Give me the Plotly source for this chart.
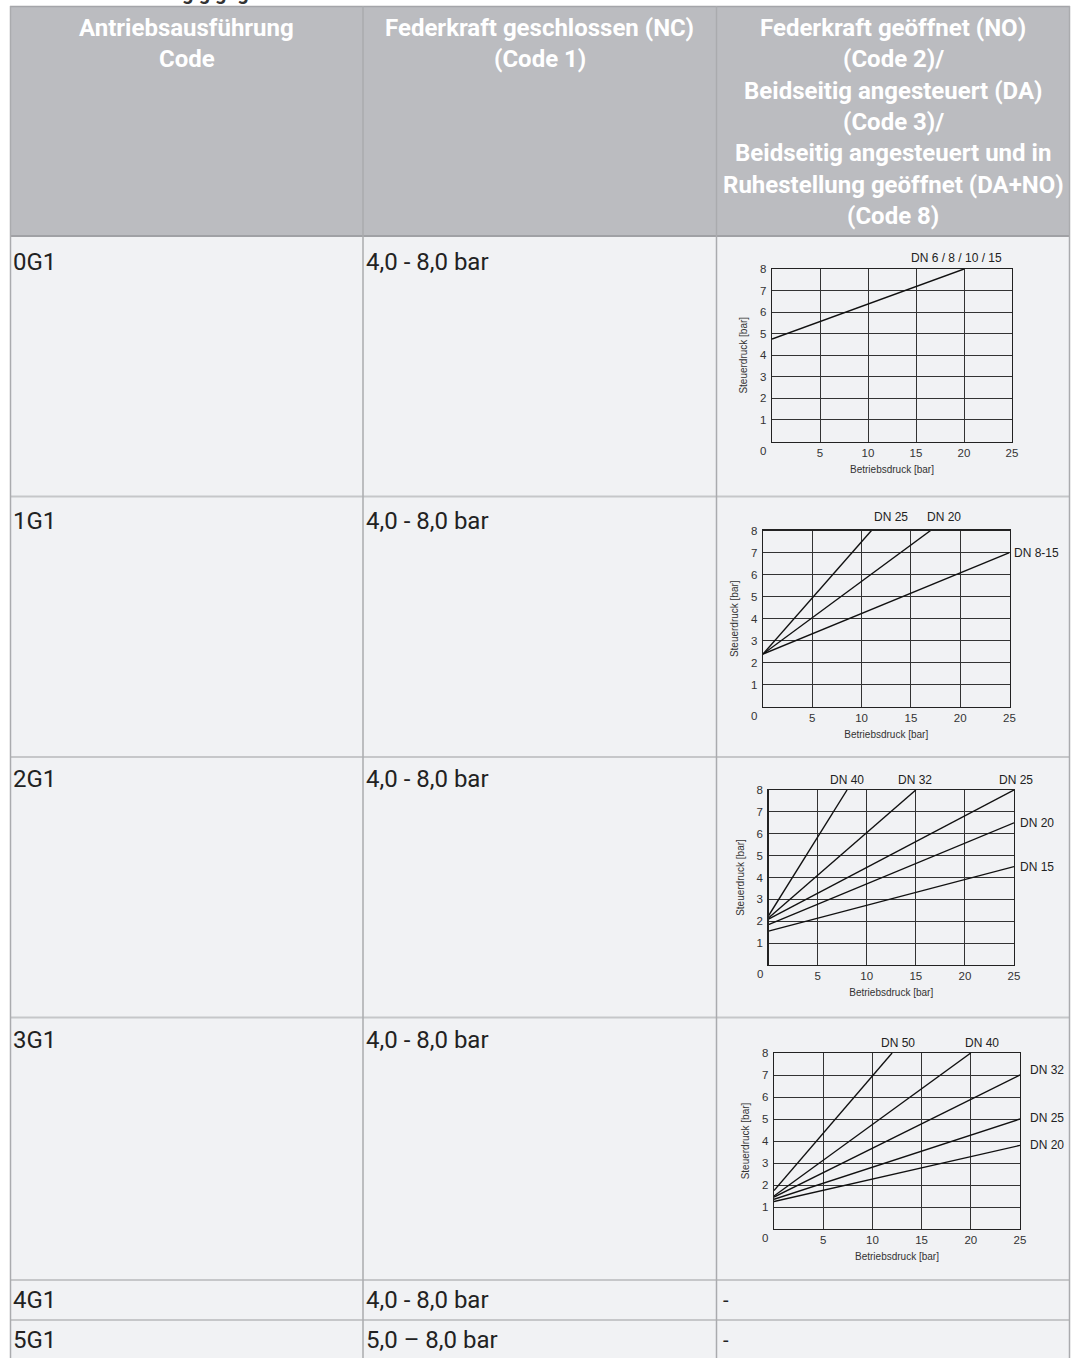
import plotly.graph_objects as go

W, H = 1077, 1358
OFF = 30  # extra figure space above the visible page top (scrolled away with a negative body margin)

# ---------------- table data ----------------
header_col1 = ["Antriebsausführung", "Code"]
header_col2 = ["Federkraft geschlossen (NC)", "(Code 1)"]
header_col3 = ["Federkraft geöffnet (NO)", "(Code 2)/", "Beidseitig angesteuert (DA)",
               "(Code 3)/", "Beidseitig angesteuert und in",
               "Ruhestellung geöffnet (DA+NO)", "(Code 8)"]
row_codes = ["0G1", "1G1", "2G1", "3G1", "4G1", "5G1"]
row_ranges = ["4,0 - 8,0 bar", "4,0 - 8,0 bar", "4,0 - 8,0 bar", "4,0 - 8,0 bar",
              "4,0 - 8,0 bar", "5,0 – 8,0 bar"]
row_col3_text = [None, None, None, None, "-", "-"]

# ---------------- chart data (Steuerdruck vs Betriebsdruck) ----------------
x_ticks = [5, 10, 15, 20, 25]
y_ticks = [1, 2, 3, 4, 5, 6, 7, 8]

g0_dn = ["DN 6 / 8 / 10 / 15"]
g0_start = [4.75]
g0_end_x = [20]
g0_end_y = [8]

g1_dn = ["DN 25", "DN 20", "DN 8-15"]
g1_start = [2.4, 2.4, 2.4]
g1_end_x = [11, 17, 25]
g1_end_y = [8, 8, 7]

g2_dn = ["DN 40", "DN 32", "DN 25", "DN 20", "DN 15"]
g2_start = [2.25, 2.15, 2.1, 1.85, 1.55]
g2_end_x = [8, 15, 25, 25, 25]
g2_end_y = [8, 8, 8, 6.5, 4.5]

g3_dn = ["DN 50", "DN 40", "DN 32", "DN 25", "DN 20"]
g3_start = [1.75, 1.5, 1.45, 1.35, 1.25]
g3_end_x = [12, 20, 25, 25, 25]
g3_end_y = [8, 8, 7, 5, 3.8]

groups = [
    (g0_dn, g0_start, g0_end_x, g0_end_y),
    (g1_dn, g1_start, g1_end_x, g1_end_y),
    (g2_dn, g2_start, g2_end_x, g2_end_y),
    (g3_dn, g3_start, g3_end_x, g3_end_y),
]

# ---------------- layout geometry (pixels of the visible page) ----------------
FH = H + OFF

def px(x):
    return x / W

def py(y):
    return 1 - (y + OFF) / FH

# plot boxes: (x_at_0, x_at_25, y_at_0, y_at_8)
boxes = [
    (772, 1012, 441.5, 269),
    (763, 1009.5, 707, 530.5),
    (768.5, 1014, 965, 790),
    (774, 1020, 1229, 1053),
]
# DN label positions in axis units: (x, y, xanchor)
label_pos = [
    [(19.2, 8.52, "center")],
    [(13.0, 8.63, "center"), (18.4, 8.63, "center"), (25.3, 7.0, "left")],
    [(7.96, 8.46, "center"), (14.9, 8.46, "center"), (25.2, 8.46, "center"),
     (25.4, 6.5, "left"), (25.4, 4.47, "left")],
    [(12.57, 8.47, "center"), (21.1, 8.47, "center"), (25.8, 7.23, "left"),
     (25.8, 5.03, "left"), (25.8, 3.82, "left")],
]

TBL_L, TBL_R, TBL_T = 10, 1070, 6
COL1, COL2 = 363, 716.5
HDR_B = 236
row_tops = [236, 496.5, 757, 1017.5, 1280, 1320]
row_text_y = [262, 521, 779, 1040, 1300, 1340]

HDR_BG = "#bbbcc0"
CELL_BG = "#f1f2f4"
CHART_FONT = "Liberation Sans, Arial, sans-serif"
TABLE_FONT = "Roboto, sans-serif"

fig = go.Figure()
shapes = []
annotations = []

# backgrounds
shapes.append(dict(type="rect", xref="paper", yref="paper", x0=px(TBL_L), x1=px(TBL_R),
                   y0=py(HDR_B), y1=py(TBL_T), fillcolor=HDR_BG, line=dict(width=0), layer="below"))
shapes.append(dict(type="rect", xref="paper", yref="paper", x0=px(TBL_L), x1=px(TBL_R),
                   y0=0, y1=py(HDR_B), fillcolor=CELL_BG, line=dict(width=0), layer="below"))
# horizontal lines
shapes.append(dict(type="line", xref="paper", yref="paper", x0=px(TBL_L), x1=px(TBL_R),
                   y0=py(TBL_T + 0.5), y1=py(TBL_T + 0.5), line=dict(color="#a4a5a9", width=1.5), layer="below"))
shapes.append(dict(type="line", xref="paper", yref="paper", x0=px(TBL_L), x1=px(TBL_R),
                   y0=py(HDR_B), y1=py(HDR_B), line=dict(color="#a0a1a5", width=2), layer="below"))
for yt in row_tops[1:]:
    shapes.append(dict(type="line", xref="paper", yref="paper", x0=px(TBL_L), x1=px(TBL_R),
                       y0=py(yt), y1=py(yt), line=dict(color="#c6c7c9", width=2), layer="below"))
# vertical lines
for xv in [TBL_L + 0.5, COL1, COL2, TBL_R - 0.5]:
    shapes.append(dict(type="line", xref="paper", yref="paper", x0=px(xv), x1=px(xv),
                       y0=0, y1=py(TBL_T), line=dict(color="#aaabae", width=1.5), layer="below"))

# header texts
def hdr_lines(lines, cx, y_first, step=31.3):
    for i, t in enumerate(lines):
        annotations.append(dict(text="<b>" + t + "</b>", xref="paper", yref="paper",
                                x=px(cx), y=py(y_first + i * step), xanchor="center", yanchor="middle",
                                showarrow=False, font=dict(family=TABLE_FONT, size=24, color="white")))

hdr_lines(header_col1, (TBL_L + COL1) / 2, 28)
hdr_lines(header_col2, (COL1 + COL2) / 2, 28)
hdr_lines(header_col3, (COL2 + TBL_R) / 2, 28)

# heading above the table, mostly scrolled out of view
annotations.append(dict(text="<b>Steuerdruck abhängig gegen Betriebsdruck</b>", xref="paper", yref="paper",
                        x=px(10), y=py(-7.5), xanchor="left", yanchor="middle", showarrow=False,
                        font=dict(family=TABLE_FONT, size=20, color="#333333")))

# body texts
for i, (code, rng, c3) in enumerate(zip(row_codes, row_ranges, row_col3_text)):
    annotations.append(dict(text=code, xref="paper", yref="paper", x=px(11), y=py(row_text_y[i]),
                            xanchor="left", yanchor="middle", showarrow=False,
                            font=dict(family=TABLE_FONT, size=24, color="#222222")))
    annotations.append(dict(text=rng, xref="paper", yref="paper", x=px(COL1 + 1), y=py(row_text_y[i]),
                            xanchor="left", yanchor="middle", showarrow=False,
                            font=dict(family=TABLE_FONT, size=24, color="#222222")))
    if c3:
        annotations.append(dict(text=c3, xref="paper", yref="paper", x=px(COL2 + 4), y=py(row_text_y[i]),
                                xanchor="left", yanchor="middle", showarrow=False,
                                font=dict(family=TABLE_FONT, size=20, color="#222222")))

# charts
layout_axes = {}
for gi, ((dn, start, ex, ey), box, lpos) in enumerate(zip(groups, boxes, label_pos)):
    n = gi + 1
    xa = "x" if n == 1 else f"x{n}"
    ya = "y" if n == 1 else f"y{n}"
    xkey = "xaxis" if n == 1 else f"xaxis{n}"
    ykey = "yaxis" if n == 1 else f"yaxis{n}"
    x0p, x25p, y0p, y8p = box
    for name, s, xe, ye in zip(dn, start, ex, ey):
        fig.add_trace(go.Scatter(x=[0, xe], y=[s, ye], mode="lines", name=name,
                                 line=dict(color="#111111", width=1.4),
                                 xaxis=xa, yaxis=ya, showlegend=False, hoverinfo="skip"))
    layout_axes[xkey] = dict(domain=[px(x0p), px(x25p)], range=[0, 25], anchor=ya, automargin=False,
                             tickvals=x_ticks, ticktext=[str(v) for v in x_ticks], tickangle=0,
                             showgrid=True, gridcolor="#333333", gridwidth=1,
                             showline=True, linecolor="#222222", linewidth=1.2, mirror=True,
                             zeroline=False, ticks="", ticklabelstandoff=0,
                             tickfont=dict(family=CHART_FONT, size=11.5, color="#333333"),
                             title=dict(text="Betriebsdruck [bar]", standoff=8,
                                        font=dict(family=CHART_FONT, size=10, color="#333333")),
                             fixedrange=True)
    layout_axes[ykey] = dict(domain=[py(y0p), py(y8p)], range=[0, 8], anchor=xa, automargin=False,
                             tickvals=y_ticks, ticktext=[str(v) for v in y_ticks], tickangle=0,
                             showgrid=True, gridcolor="#333333", gridwidth=1,
                             showline=True, linecolor="#222222", linewidth=1.2, mirror=True,
                             zeroline=False, ticks="", ticklabelstandoff=2,
                             tickfont=dict(family=CHART_FONT, size=11.5, color="#333333"),
                             title=dict(text="Steuerdruck [bar]", standoff=10,
                                        font=dict(family=CHART_FONT, size=10, color="#333333")),
                             fixedrange=True)
    # shared "0" corner label
    annotations.append(dict(text="0", xref=f"{xa} domain", yref=f"{ya} domain", x=0, y=0,
                            xshift=-9, yshift=-9, xanchor="center", yanchor="middle", showarrow=False,
                            font=dict(family=CHART_FONT, size=11.5, color="#333333")))
    for name, (lx, ly, anc) in zip(dn, lpos):
        annotations.append(dict(text=name, xref=f"{xa} domain", yref=f"{ya} domain",
                                x=lx / 25.0, y=ly / 8.0, xanchor=anc, yanchor="middle",
                                showarrow=False,
                                font=dict(family=CHART_FONT, size=12, color="#222222")))

fig.update_layout(
    width=W, height=FH, autosize=False,
    margin=dict(l=0, r=0, t=0, b=0, pad=0, autoexpand=False),
    paper_bgcolor="white", plot_bgcolor="rgba(0,0,0,0)",
    shapes=shapes, annotations=annotations, showlegend=False,
    **layout_axes,
)

fig.write_html("out.html", config={"displayModeBar": False, "staticPlot": True},
               post_script=("document.body.style.margin='0';"
                            "document.body.style.marginTop='-%dpx';"
                            "document.body.style.overflow='hidden';" % OFF))
